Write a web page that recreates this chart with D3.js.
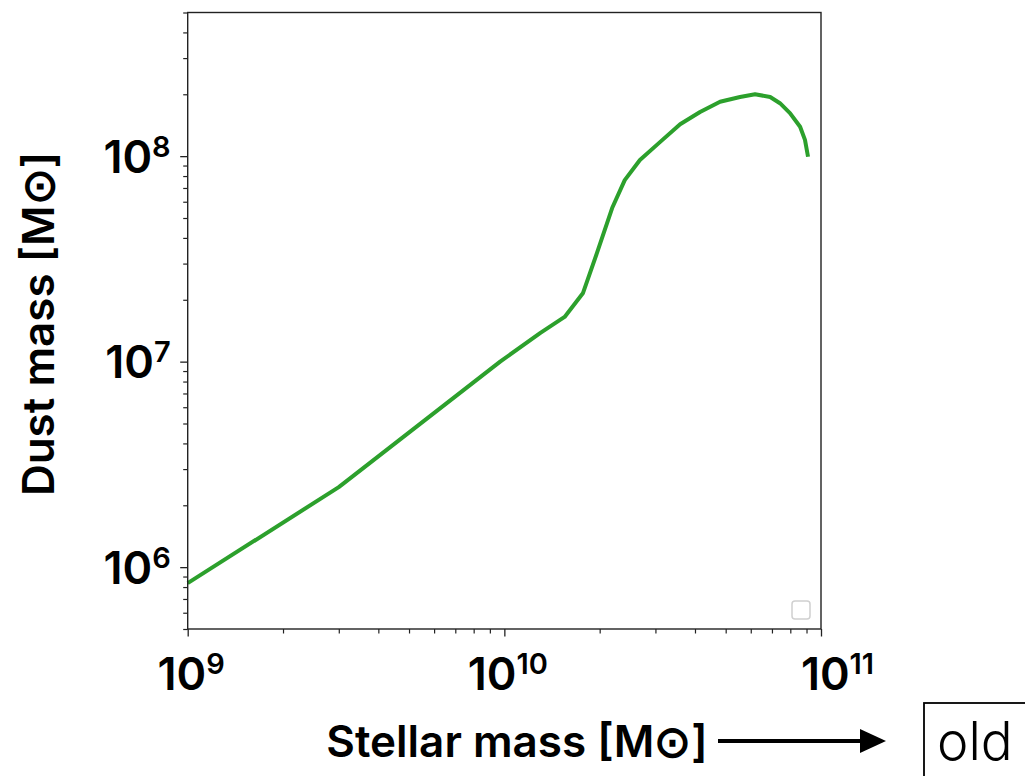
<!DOCTYPE html>
<html>
<head>
<meta charset="utf-8">
<script src="https://cdn.jsdelivr.net/npm/d3@7"></script>
<style>
  body { margin: 0; background: #fff; }
  text { font-family: Inter, "Noto Sans", sans-serif; }
</style>
</head>
<body>
<svg width="1025" height="776"></svg>
<script>
// stellar mass vs dust mass
var stellarMass = [1e9, 3.0e9, 9.7e9, 1.3e10, 1.55e10, 1.77e10, 1.96e10, 2.19e10, 2.4e10,
                   2.68e10, 3.1e10, 3.59e10, 4.15e10, 4.8e10, 5.55e10, 6.19e10, 6.91e10,
                   7.42e10, 7.98e10, 8.59e10, 8.9e10, 9.1e10];
var dustMass = [8.36e5, 2.45e6, 1.0e7, 1.38e7, 1.65e7, 2.15e7, 3.37e7, 5.59e7, 7.64e7,
                9.57e7, 1.17e8, 1.43e8, 1.64e8, 1.84e8, 1.94e8, 2.0e8, 1.94e8,
                1.81e8, 1.62e8, 1.39e8, 1.2e8, 9.93e7];
var xMajor = [1e9, 1e10, 1e11];
var yMajor = [1e6, 1e7, 1e8];
var xDomain = [1e9, 1e11];
var yDomain = [5e5, 5e8];

var margin = {left: 187.7, top: 12.5};
var w = 633.3, h = 616.5;

var svg = d3.select("svg");
var g = svg.append("g").attr("transform", "translate(" + margin.left + "," + margin.top + ")");

var x = d3.scaleLog().domain(xDomain).range([0, w]);
var y = d3.scaleLog().domain(yDomain).range([h, 0]);

function minors(dom) {
  var out = [];
  var lo = Math.floor(Math.log10(dom[0])), hi = Math.ceil(Math.log10(dom[1]));
  for (var e = lo; e <= hi; e++) {
    for (var k = 2; k <= 9; k++) {
      var v = k * Math.pow(10, e);
      if (v >= dom[0] * 0.999 && v <= dom[1] * 1.001) out.push(v);
    }
  }
  return out;
}

// minor ticks
g.append("g").attr("transform", "translate(0," + h + ")")
  .call(d3.axisBottom(x).tickValues(minors(xDomain)).tickSize(4.5).tickSizeOuter(0).tickFormat(""))
  .call(function(a){ a.select(".domain").remove(); a.selectAll("line").attr("stroke", "#222").attr("stroke-width", 1.2); });
g.append("g")
  .call(d3.axisLeft(y).tickValues(minors(yDomain)).tickSize(4.5).tickSizeOuter(0).tickFormat(""))
  .call(function(a){ a.select(".domain").remove(); a.selectAll("line").attr("stroke", "#222").attr("stroke-width", 1.2); });

// major ticks
var xa = g.append("g").attr("transform", "translate(0," + h + ")")
  .call(d3.axisBottom(x).tickValues(xMajor).tickSize(7.5).tickSizeOuter(0).tickFormat(""));
xa.select(".domain").remove();
xa.selectAll("line").attr("stroke", "#222").attr("stroke-width", 1.3);
var ya = g.append("g")
  .call(d3.axisLeft(y).tickValues(yMajor).tickSize(7.5).tickSizeOuter(0).tickFormat(""));
ya.select(".domain").remove();
ya.selectAll("line").attr("stroke", "#222").attr("stroke-width", 1.3);

function powLabel(sel) {
  sel.append("tspan").text("10").attr("font-size", 45);
  sel.append("tspan").text(function(d){ return Math.round(Math.log10(d)); })
    .attr("font-size", 29).attr("dy", -16);
}

xa.selectAll(".tick").append("text")
  .attr("fill", "#000").attr("text-anchor", "middle").attr("font-weight", 600)
  .attr("x", function(d){ return d === 1e11 ? 16 : 3; })
  .attr("y", 61)
  .call(powLabel);
ya.selectAll(".tick").append("text")
  .attr("fill", "#000").attr("text-anchor", "end").attr("font-weight", 600)
  .attr("x", -17).attr("y", 16)
  .call(powLabel);

// line
g.append("path")
  .datum(d3.zip(stellarMass, dustMass))
  .attr("fill", "none").attr("stroke", "#2ca02c").attr("stroke-width", 4)
  .attr("stroke-linejoin", "round")
  .attr("d", d3.line().x(function(d){ return x(d[0]); }).y(function(d){ return y(d[1]); }));

// frame
g.append("rect").attr("width", w).attr("height", h)
  .attr("fill", "none").attr("stroke", "#222").attr("stroke-width", 1.4);

// empty legend frame
g.append("rect").attr("x", w - 29).attr("y", h - 28).attr("width", 18).attr("height", 18)
  .attr("rx", 3).attr("fill", "#fff").attr("stroke", "#d0d0d0").attr("stroke-width", 1.5);

// axis titles
svg.append("text").attr("x", 517).attr("y", 757).attr("text-anchor", "middle")
  .attr("font-size", 44).attr("font-weight", 600).text("Stellar mass [M\u2299]");
svg.append("text").attr("transform", "translate(54,324) rotate(-90)").attr("text-anchor", "middle")
  .attr("font-size", 44).attr("font-weight", 600).text("Dust mass [M\u2299]");

// arrow + "old" box
svg.append("line").attr("x1", 718).attr("x2", 862).attr("y1", 741).attr("y2", 741)
  .attr("stroke", "#000").attr("stroke-width", 4);
svg.append("path").attr("d", "M860,729 L886,741 L860,753 Z").attr("fill", "#000");
svg.append("rect").attr("x", 924).attr("y", 703).attr("width", 120).attr("height", 100)
  .attr("fill", "none").attr("stroke", "#000").attr("stroke-width", 1.8);
svg.append("text").attr("x", 937).attr("y", 760).attr("font-size", 53).attr("font-weight", 300)
  .text("old");
</script>
</body>
</html>
